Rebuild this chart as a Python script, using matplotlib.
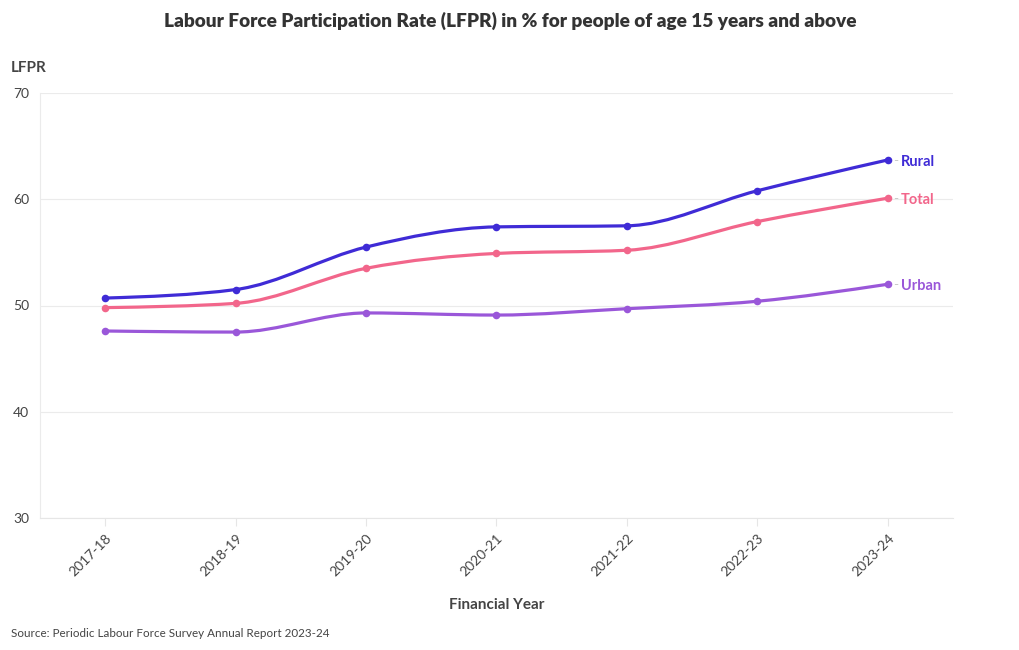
import numpy as np
import matplotlib
matplotlib.use('Agg')
import matplotlib.pyplot as plt
from matplotlib.path import Path
from matplotlib.patches import PathPatch

plt.rcParams['font.family'] = ['Lato', 'DejaVu Sans']

years = ['2017-18', '2018-19', '2019-20', '2020-21', '2021-22', '2022-23', '2023-24']
rural = [50.7, 51.5, 55.5, 57.4, 57.5, 60.8, 63.7]
total = [49.8, 50.2, 53.5, 54.9, 55.2, 57.9, 60.1]
urban = [47.6, 47.5, 49.3, 49.1, 49.7, 50.4, 52.0]

series = [('Rural', rural, '#3f2bd6'), ('Total', total, '#f2668b'), ('Urban', urban, '#9a57d9')]


def monotone_path(x, y):
    # monotone cubic (like d3 curveMonotoneX) as bezier segments
    x = np.asarray(x, float)
    y = np.asarray(y, float)
    n = len(x)
    h = np.diff(x)
    s = np.diff(y) / h
    t = np.zeros(n)
    for i in range(1, n - 1):
        if s[i - 1] * s[i] <= 0:
            t[i] = 0
        else:
            p = (s[i - 1] * h[i] + s[i] * h[i - 1]) / (h[i - 1] + h[i])
            t[i] = (np.sign(s[i - 1]) + np.sign(s[i])) * min(abs(s[i - 1]), abs(s[i]), 0.5 * abs(p))
    t[0] = (3 * s[0] - t[1]) / 2 if n > 2 else s[0]
    t[-1] = (3 * s[-1] - t[-2]) / 2 if n > 2 else s[-1]
    verts = [(x[0], y[0])]
    codes = [Path.MOVETO]
    for i in range(n - 1):
        dx = h[i] / 3
        verts += [(x[i] + dx, y[i] + dx * t[i]), (x[i + 1] - dx, y[i + 1] - dx * t[i + 1]), (x[i + 1], y[i + 1])]
        codes += [Path.CURVE4] * 3
    return Path(verts, codes)


fig = plt.figure(figsize=(10.2, 6.5), dpi=100)
ax = fig.add_axes([40 / 1020, 132 / 650, 913 / 1020, 425 / 650])

xs = np.arange(len(years))
for name, vals, color in series:
    ax.add_patch(PathPatch(monotone_path(xs, vals), facecolor='none', edgecolor=color, lw=2.3, zorder=3))
    ax.scatter(xs, vals, s=30, color=color, zorder=4, linewidths=0)
    ax.annotate('-', xy=(xs[-1], vals[-1]), xytext=(4.2, -0.8), textcoords='offset points',
                va='center', ha='left', color='#c8c8c8', fontsize=10, zorder=2)
    ax.annotate(name, xy=(xs[-1], vals[-1]), xytext=(9.5, -1.2), textcoords='offset points',
                va='center', ha='left', color=color, fontsize=10.5, fontweight='bold')

ax.set_xlim(-0.5, 6.5)
ax.set_ylim(30, 70)
ax.set_yticks([30, 40, 50, 60, 70])
ax.set_xticks(xs)
ax.set_xticklabels(years, rotation=45, ha='right', rotation_mode='anchor', fontsize=10, color='#444444')
ax.tick_params(axis='y', length=0, labelsize=10, labelcolor='#444444', pad=8)
ax.tick_params(axis='x', length=6, color='#e6e6e6', pad=4)
ax.grid(axis='y', color='#ebebeb', lw=0.8)
ax.set_axisbelow(True)
for sp in ['top', 'right']:
    ax.spines[sp].set_visible(False)
ax.spines['left'].set_color('#ebebeb')
ax.spines['bottom'].set_color('#e6e6e6')

ax.set_xlabel('Financial Year', fontsize=11, fontweight='bold', color='#444444', labelpad=14)
fig.text(0.0105, 0.895, 'LFPR', fontsize=11, fontweight='bold', color='#444444', va='center')
fig.text(0.5, 0.968, 'Labour Force Participation Rate (LFPR) in % for people of age 15 years and above',
         ha='center', va='center', fontsize=13.7, fontweight='heavy', color='#333333')
fig.text(0.0105, 0.026, 'Source: Periodic Labour Force Survey Annual Report 2023-24', fontsize=8.4,
         color='#444444', va='center')

plt.savefig('out.png', dpi=100)
